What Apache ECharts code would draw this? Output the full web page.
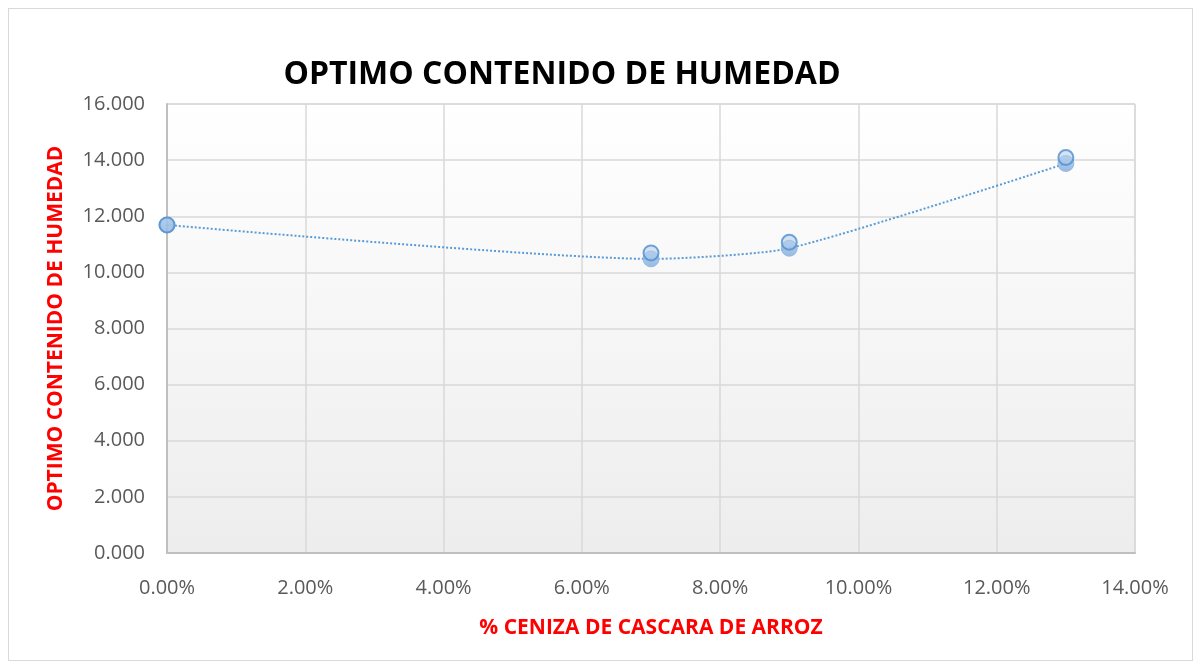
<!DOCTYPE html>
<html>
<head>
<meta charset="utf-8">
<script src="https://cdn.jsdelivr.net/npm/echarts@6/dist/echarts.min.js"></script>
<style>
  html, body { margin: 0; padding: 0; background: #fff; }
  #frame { position: absolute; left: 8px; top: 8px; width: 1183px; height: 651px; border: 1px solid #d9d9d9; }
  #chart { position: absolute; left: 0; top: 0; width: 1200px; height: 667px; }
</style>
</head>
<body>
<div id="frame"></div>
<div id="chart"></div>
<script>
// datos
var ceniza = [0, 7, 9, 13];              // % ceniza de cascara de arroz
var humedad = [11.69, 10.48, 10.86, 13.88]; // optimo contenido de humedad
var xTicks = [0, 2, 4, 6, 8, 10, 12, 14];
var yTicks = [0, 2, 4, 6, 8, 10, 12, 14, 16];

var puntos = ceniza.map(function (c, i) { return [c, humedad[i]]; });
// el primer marcador no muestra el relieve
var puntosBorde = puntos.map(function (p, i) {
  return { value: p, symbolOffset: i === 0 ? [0, 0] : [0, -6] };
});

var chart = echarts.init(document.getElementById("chart"));
var gris = "#595959";
var options = {
  backgroundColor: "transparent",
  title: {
    text: "OPTIMO CONTENIDO DE HUMEDAD",
    left: 557,
    top: 54,
    textAlign: "center",
    textStyle: {
      fontFamily: "Open Sans",
      fontWeight: "bold",
      fontSize: 32,
      color: "#000"
    }
  },
  grid: {
    left: 167,
    top: 104,
    width: 968,
    height: 449,
    show: true,
    borderColor: "#d0d0d0",
    borderWidth: 1,
    backgroundColor: new echarts.graphic.LinearGradient(0, 0, 0, 1, [
      { offset: 0, color: "#ffffff" },
      { offset: 1, color: "#ededed" }
    ])
  },
  xAxis: {
    type: "value",
    min: xTicks[0],
    max: xTicks[xTicks.length - 1],
    interval: 2,
    name: "% CENIZA DE CASCARA DE ARROZ",
    nameLocation: "middle",
    nameGap: 65,
    nameTextStyle: {
      color: "#ff0000",
      fontWeight: "bold",
      fontSize: 21,
      fontFamily: "Open Sans"
    },
    axisLine: { lineStyle: { color: "#bfbfbf", width: 2 } },
    axisTick: { show: false },
    splitLine: { lineStyle: { color: "#d9d9d9", width: 1.5 } },
    axisLabel: {
      margin: 25,
      color: gris,
      fontSize: 20,
      fontFamily: "Open Sans",
      formatter: function (v) { return v.toFixed(2) + "%"; }
    }
  },
  yAxis: {
    type: "value",
    min: yTicks[0],
    max: yTicks[yTicks.length - 1],
    interval: 2,
    name: "OPTIMO CONTENIDO DE HUMEDAD",
    nameLocation: "middle",
    nameGap: 100,
    nameTextStyle: {
      color: "#ff0000",
      fontWeight: "bold",
      fontSize: 21,
      fontFamily: "Open Sans"
    },
    axisLine: { show: true, lineStyle: { color: "#bfbfbf", width: 2 } },
    axisTick: { show: false },
    splitLine: { lineStyle: { color: "#d9d9d9", width: 1.5 } },
    axisLabel: {
      margin: 22,
      color: gris,
      fontSize: 20,
      fontFamily: "Open Sans",
      formatter: function (v) { return v.toFixed(3); }
    }
  },
  series: [
    {
      name: "linea",
      type: "line",
      smooth: 0.2,
      data: puntos,
      symbol: "none",
      lineStyle: { color: "#5b9bd5", width: 2, type: [2, 2] },
      z: 2
    },
    {
      name: "marcador",
      type: "scatter",
      data: puntos,
      symbol: "circle",
      symbolSize: 16,
      itemStyle: {
        color: new echarts.graphic.LinearGradient(0, 0, 0, 1, [
          { offset: 0, color: "#a9c8ea" },
          { offset: 1, color: "#7fa9db" }
        ]),
        borderColor: "#8fb5e0",
        borderWidth: 1
      },
      z: 3
    },
    {
      name: "borde",
      type: "scatter",
      data: puntosBorde,
      symbol: "circle",
      symbolSize: 15,
      itemStyle: {
        color: "rgba(170,200,235,0.6)",
        borderColor: "#4f8fd0",
        borderWidth: 2
      },
      z: 4
    }
  ]
};
chart.setOption(options);
</script>
</body>
</html>
